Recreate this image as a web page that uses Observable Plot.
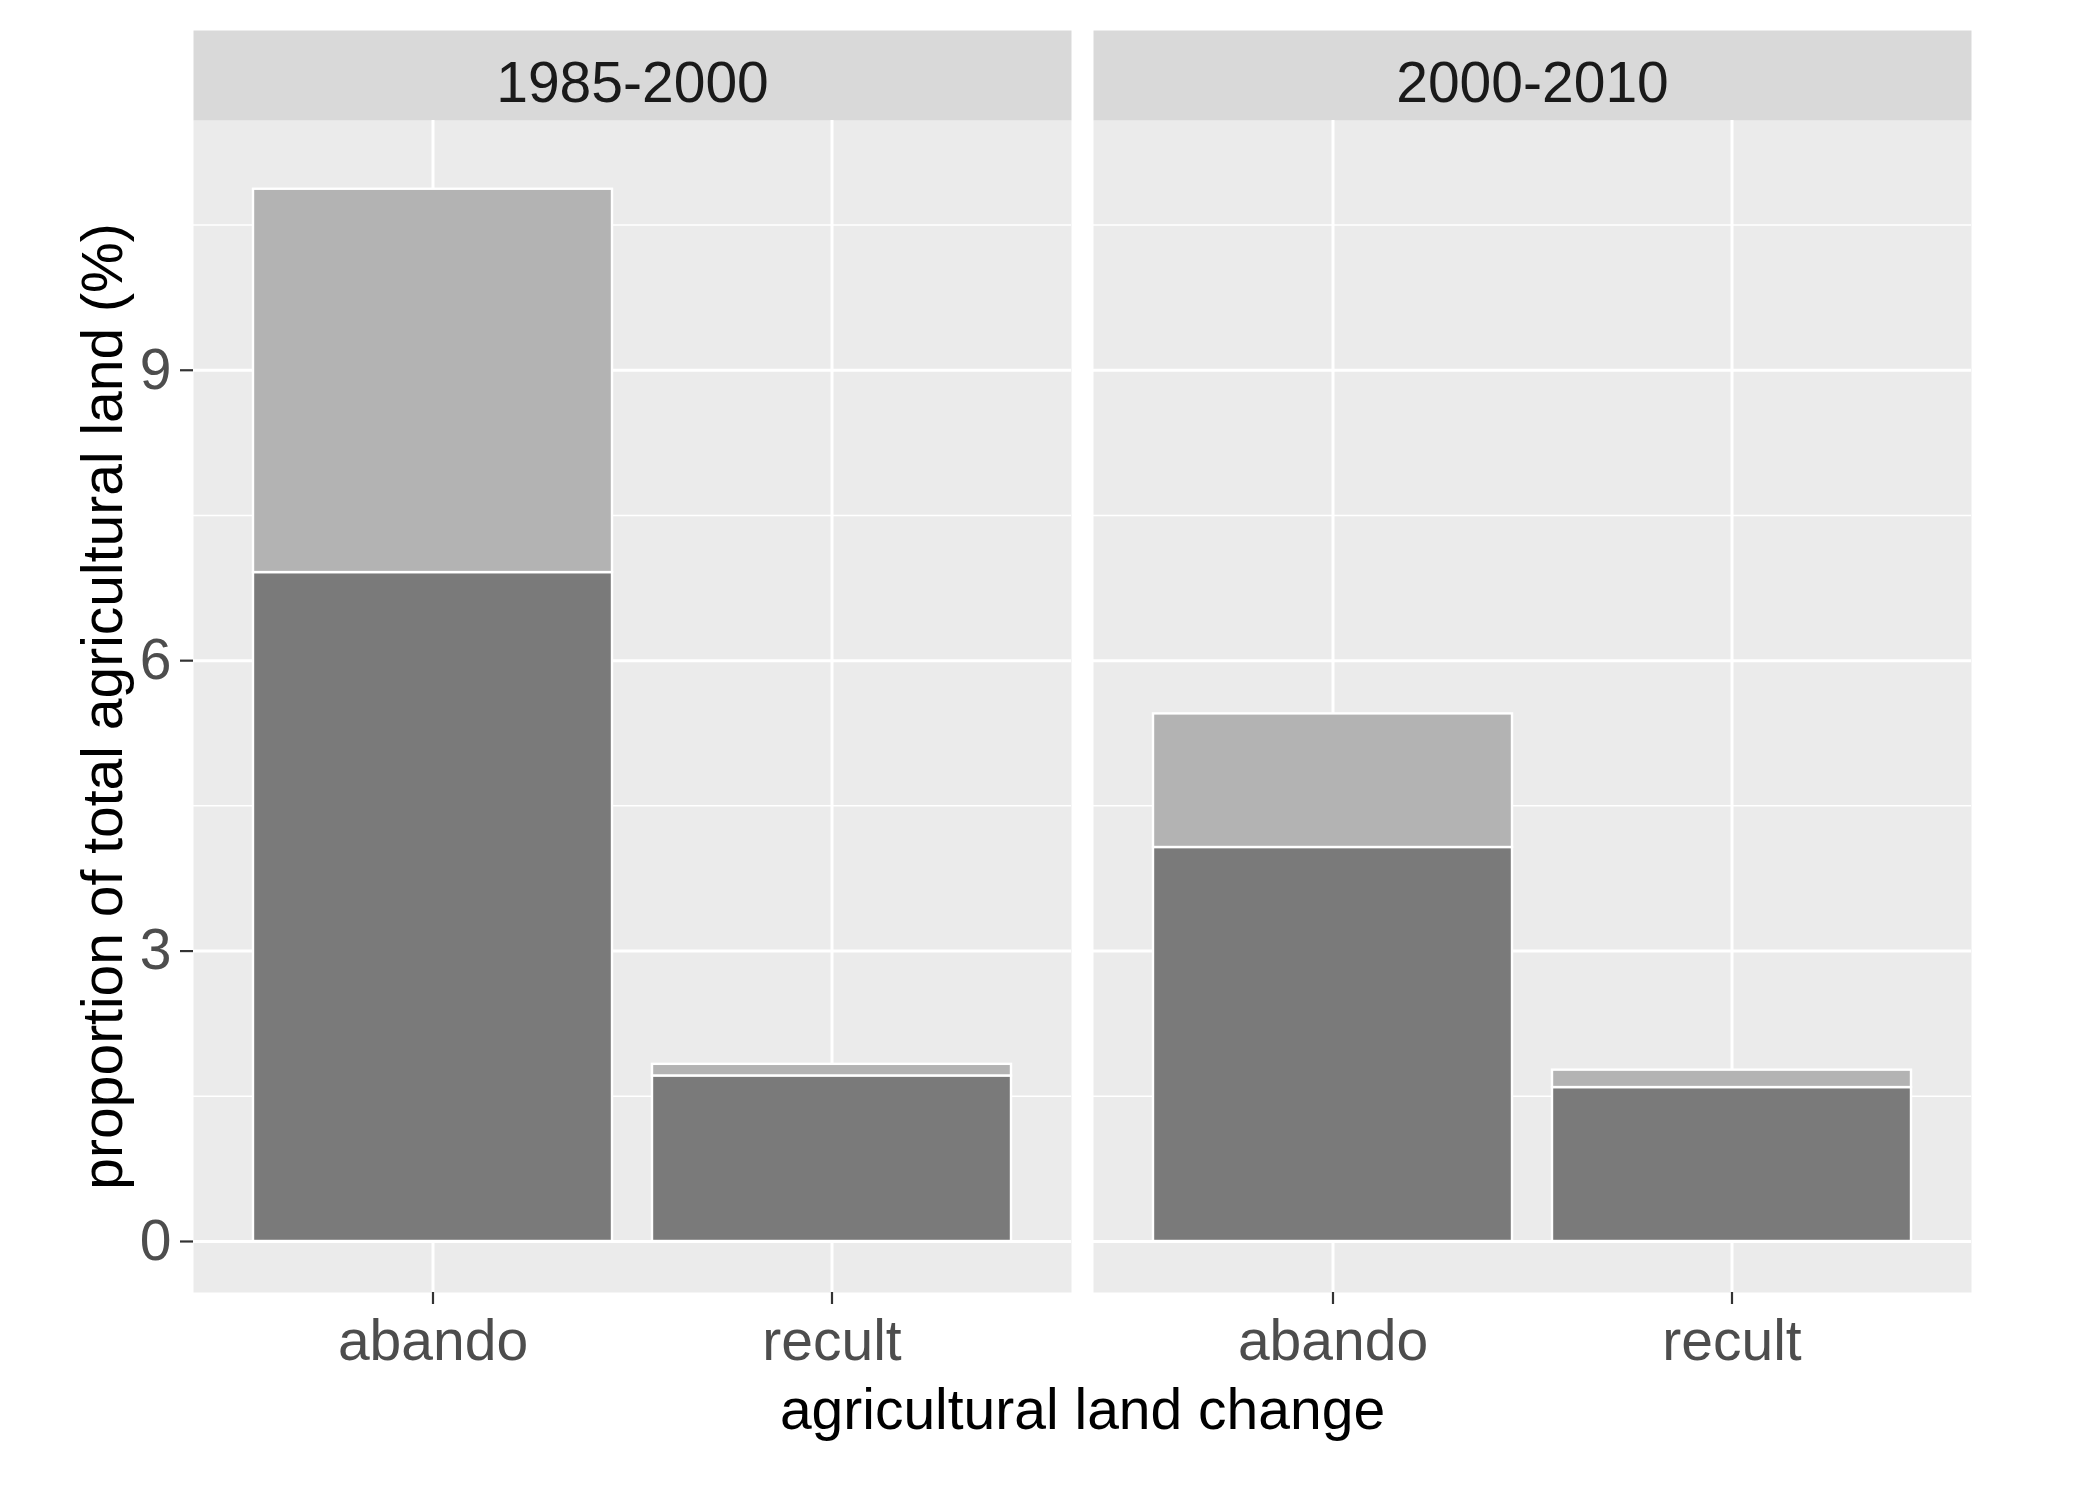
<!DOCTYPE html>
<html>
<head>
<meta charset="utf-8">
<script src="https://cdn.jsdelivr.net/npm/d3@7"></script>
<script src="https://cdn.jsdelivr.net/npm/@observablehq/plot@0.6"></script>
<style>
  html, body { margin: 0; padding: 0; background: #ffffff; }
  #chart svg { display: block; }
</style>
</head>
<body>
<div id="chart"></div>
<script>
// ---- data ----
const periods = ["1985-2000", "2000-2010"];
const changes = ["abando", "recult"];
const components = ["main", "secondary"];
// values per period (rows) and per change (columns), in %
const mainValues = [[6.91, 1.71], [4.07, 1.59]];
const secondaryValues = [[3.96, 0.12], [1.38, 0.18]];
const yTicks = [0, 3, 6, 9];
const yMinorTicks = [1.5, 4.5, 7.5, 10.5];
const yLabel = "proportion of total agricultural land (%)";
const xLabel = "agricultural land change";

const rows = [];
periods.forEach((p, i) => {
  changes.forEach((c, j) => {
    rows.push({period: p, change: c, component: components[0], value: mainValues[i][j]});
  });
});
periods.forEach((p, i) => {
  changes.forEach((c, j) => {
    rows.push({period: p, change: c, component: components[1], value: secondaryValues[i][j]});
  });
});

const W = 2080, H = 1492;
const mTop = 120, mBottom = 200, mLeft = 193, mRight = 108;
const panelH = H - mTop - mBottom;
const stripH = 90;
const FS = 57;

const chart = Plot.plot({
  width: W,
  height: H,
  marginTop: mTop,
  marginBottom: mBottom,
  marginLeft: mLeft,
  marginRight: mRight,
  style: {fontFamily: "'Liberation Sans', Arial, sans-serif", fontSize: FS + "px", background: "#ffffff"},
  fx: {domain: periods, paddingInner: 0.0244, paddingOuter: 0, label: null},
  x: {domain: changes, paddingInner: 0.1, paddingOuter: 0.15, label: null},
  y: {domain: [-0.527, 11.58], label: null},
  color: {domain: components, range: ["#7A7A7A", "#B3B3B3"]},
  marks: [
    Plot.frame({fill: "#EBEBEB"}),
    Plot.frame({fill: "#D9D9D9", insetTop: -stripH, insetBottom: panelH}),
    Plot.gridY(yMinorTicks, {stroke: "#ffffff", strokeOpacity: 1, strokeWidth: 1.5}),
    Plot.gridY(yTicks, {stroke: "#ffffff", strokeOpacity: 1, strokeWidth: 3}),
    Plot.gridX({stroke: "#ffffff", strokeOpacity: 1, strokeWidth: 3}),
    Plot.barY(rows, {fx: "period", x: "change", y: "value", fill: "component", stroke: "#ffffff", strokeWidth: 2.4}),
    Plot.text(periods, {fx: d => d, text: d => d, frameAnchor: "top", lineAnchor: "middle", dy: -37, fontSize: FS, fill: "#1A1A1A"}),
    Plot.axisY(yTicks, {tickSize: 13, tickPadding: 9, tickFormat: d => String(d), fontSize: FS, fill: "#4D4D4D", stroke: "#333333", strokeWidth: 2.2, label: null}),
    Plot.axisX({tickSize: 12, tickPadding: 15, fontSize: FS, fill: "#4D4D4D", stroke: "#333333", strokeWidth: 2.2, label: null}),
    Plot.axisY([], {tickSize: 0, label: yLabel, labelAnchor: "center", labelArrow: "none", labelOffset: 112, fontSize: FS, fill: "#000000"}),
    Plot.axisFx({anchor: "bottom", tickSize: 0, tickFormat: () => "", label: xLabel, labelAnchor: "center", labelArrow: "none", labelOffset: 136, fontSize: FS, fill: "#000000"})
  ]
});
document.getElementById("chart").appendChild(chart);
</script>
</body>
</html>
